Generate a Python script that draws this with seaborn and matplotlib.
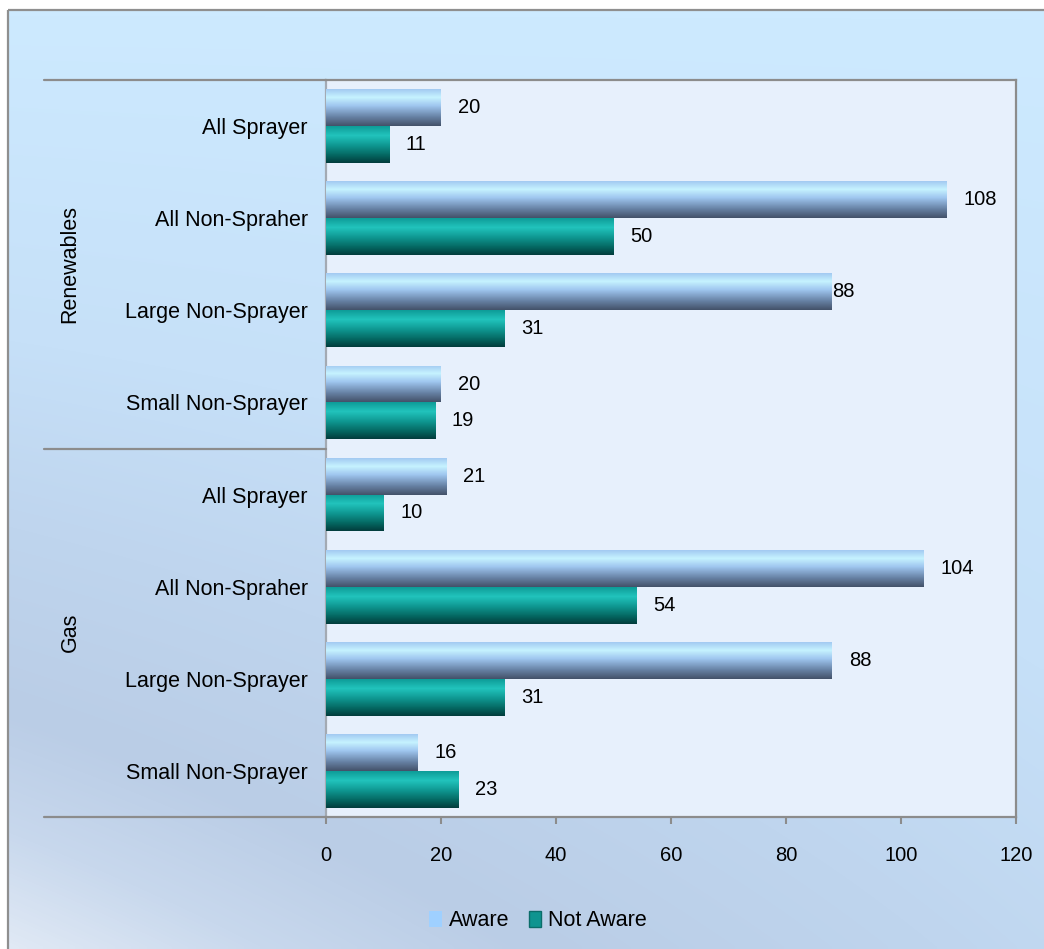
import numpy as np
import pandas as pd
import matplotlib
matplotlib.use("Agg")
import matplotlib.pyplot as plt
from matplotlib.colors import LinearSegmentedColormap
from matplotlib.lines import Line2D
import seaborn as sns

# ---- data ----
groups = ["Renewables", "Gas"]
segments = ["All Sprayer", "All Non-Spraher", "Large Non-Sprayer", "Small Non-Sprayer"]
series = ["Aware", "Not Aware"]
renewables_aware = [20, 108, 88, 20]
renewables_not_aware = [11, 50, 31, 19]
gas_aware = [21, 104, 88, 16]
gas_not_aware = [10, 54, 31, 23]
x_ticks = [0, 20, 40, 60, 80, 100, 120]

values = {
    ("Renewables", "Aware"): renewables_aware,
    ("Renewables", "Not Aware"): renewables_not_aware,
    ("Gas", "Aware"): gas_aware,
    ("Gas", "Not Aware"): gas_not_aware,
}

rows = []
for g in groups:
    for i, seg in enumerate(segments):
        for s in series:
            rows.append({"key": f"{g}|{seg}", "segment": seg, "group": g,
                         "series": s, "value": values[(g, s)][i]})
df = pd.DataFrame(rows)
order = [f"{g}|{seg}" for g in groups for seg in segments]

W, H, DPI = 1044, 949, 100
FONT = ["Liberation Sans", "DejaVu Sans"]
sns.set_theme(style="white")
plt.rcParams["font.family"] = FONT
plt.rcParams["text.color"] = "black"
plt.rcParams["xtick.labelcolor"] = "black"
plt.rcParams["ytick.labelcolor"] = "black"
FS = 14.5      # numbers
FS_CAT = 15.5  # category / group / legend text

fig = plt.figure(figsize=(W / DPI, H / DPI), dpi=DPI)
fig.patch.set_facecolor("white")

# ---- background panel with soft gradient ----
bg = fig.add_axes([0, 0, 1, 1], zorder=-10)
bg.set_xlim(0, W)
bg.set_ylim(H, 0)
bg.axis("off")
yy, xx = np.mgrid[0:1:200j, 0:1:200j]
t = yy * (1 - 0.5 * xx)
bg_cmap = LinearSegmentedColormap.from_list(
    "bgpanel",
    [(0.0, "#cdeaff"), (0.35, "#c6e0f8"), (0.55, "#bfd5ee"),
     (0.75, "#bacde6"), (0.88, "#c8d8ed"), (1.0, "#e0e9f5")])
bg.imshow(t, cmap=bg_cmap, extent=(8, W, H, 10), aspect="auto",
          interpolation="bilinear", zorder=0)
bg.plot([8, 8], [10, H], color="#8f8f8f", lw=1.6, zorder=2, solid_capstyle="butt")
bg.plot([8, W], [10, 10], color="#8f8f8f", lw=1.6, zorder=2, solid_capstyle="butt")

# ---- main plot ----
left, right, top, bottom = 326, 1016, 80, 817
ax = fig.add_axes([left / W, 1 - bottom / H, (right - left) / W, (bottom - top) / H])
ax.set_facecolor("#e7f0fc")

palette = {"Aware": "#9fd0ff", "Not Aware": "#0f9490"}
sns.barplot(data=df, y="key", x="value", hue="series", order=order,
            hue_order=series, palette=palette, orient="h", width=0.8,
            ax=ax, legend=True, saturation=1, edgecolor="none")

# gradient fills for the bars (top -> bottom of each bar)
grad = {
    "Aware": LinearSegmentedColormap.from_list(
        "aware", [(0.0, "#a3caf2"), (0.22, "#c6f3ff"), (0.45, "#9fc6ef"),
                  (0.75, "#6883a6"), (1.0, "#44526a")]),
    "Not Aware": LinearSegmentedColormap.from_list(
        "notaware", [(0.0, "#0e9c98"), (0.25, "#22c4bd"), (0.5, "#109b95"),
                     (0.8, "#046660"), (1.0, "#023d3d")]),
}
col = np.linspace(0, 1, 64).reshape(-1, 1)
bar_patches = [p for p in ax.patches if p.get_width() > 0]
n_cat = len(order)
for idx, p in enumerate(bar_patches):
    s = series[idx // n_cat]
    x0, y0 = p.get_x(), p.get_y()
    w, h = p.get_width(), p.get_height()
    im = ax.imshow(col, cmap=grad[s], extent=(x0, x0 + w, y0 + h, y0),
                   aspect="auto", origin="upper", interpolation="bilinear", zorder=3)
    im.set_clip_path(p)

ax.set_xlim(0, 120)
ax.set_ylim(n_cat - 0.5, -0.5)

# value labels
for idx, p in enumerate(bar_patches):
    s = series[idx // n_cat]
    key = order[idx % n_cat]
    g, seg = key.split("|")
    val = values[(g, s)][segments.index(seg)]
    dx = 12
    if g == "Renewables" and seg == "Large Non-Sprayer" and s == "Aware":
        dx = 0  # this label sits right against the bar end
    ax.annotate(f"{val}", xy=(val, p.get_y() + p.get_height() / 2),
                xytext=(dx, 0), textcoords="offset points",
                ha="left", va="center", fontsize=FS, color="black", zorder=5)

# axes styling
ax.set_xlabel("")
ax.set_ylabel("")
ax.set_xticks(x_ticks)
ax.set_xticklabels([str(v) for v in x_ticks], fontsize=FS, color="black")
ax.set_yticks(range(n_cat))
ax.set_yticklabels([k.split("|")[1] for k in order], fontsize=FS_CAT, color="black")
ax.tick_params(axis="y", length=0, pad=13)
ax.tick_params(axis="x", length=5, width=1.5, color="#8c8c8c", direction="out", pad=16,
               bottom=True)
for name, sp in ax.spines.items():
    sp.set_visible(True)
    sp.set_color("#8c8c8c")
    sp.set_linewidth(1.6)
ax.spines["left"].set_color("#a3aab3")

# group separator lines and group labels on the category axis
for ypix in (top, (top + bottom) / 2, bottom):
    fy = 1 - ypix / H
    fig.add_artist(Line2D([44 / W, left / W], [fy, fy], color="#8c8c8c", lw=1.6,
                          transform=fig.transFigure))
for gi, g in enumerate(groups):
    ycen = top + (bottom - top) * (gi * 2 + 1) / 4
    fig.text(70 / W, 1 - ycen / H, g, rotation=90, ha="center", va="center",
             fontsize=FS_CAT, color="black")

# legend
handles, labels = ax.get_legend_handles_labels()
if ax.get_legend() is not None:
    ax.get_legend().remove()
handles[1].set_edgecolor("#0b6d6a")
handles[1].set_linewidth(1.0)
leg = fig.legend(handles, labels, loc="center", bbox_to_anchor=(538 / W, 1 - 921 / H),
                 ncol=2, frameon=False, fontsize=FS_CAT, handlelength=0.6,
                 handleheight=0.75, handletextpad=0.3, columnspacing=0.9)
for txt in leg.get_texts():
    txt.set_color("black")

fig.savefig("out.png", dpi=DPI)
